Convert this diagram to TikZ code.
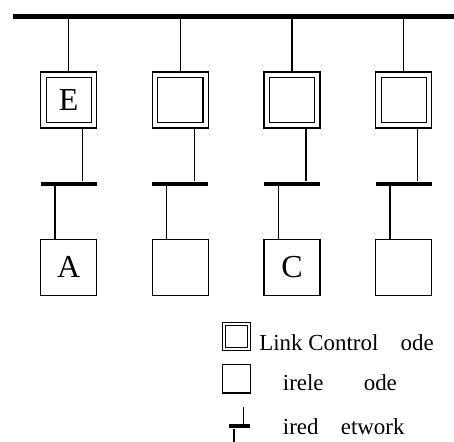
\documentclass[tikz,border=0pt]{standalone}
\usepackage{fontspec}
\setmainfont{Liberation Serif}
\usetikzlibrary{calc}
\tikzset{
  outerbox/.style={draw, line width=0.8pt, minimum size=42pt, inner sep=0pt, fill=white},
  innerbox/.style={draw, line width=0.8pt, minimum size=34pt, inner sep=0pt, font=\fontsize{24}{24}\selectfont},
  plainbox/.style={draw, line width=0.8pt, minimum size=42pt, inner sep=0pt, font=\fontsize{24}{24}\selectfont},
  busbar/.style={fill=black, minimum width=42pt, minimum height=3pt, inner sep=0pt},
  smallbar/.style={fill=black, minimum width=15.5pt, minimum height=3pt, inner sep=0pt},
  wire/.style={line width=0.8pt},
  bus/.style={line width=3.2pt},
  legtext/.style={anchor=base west, inner sep=0pt, font=\fontsize{17.2}{17.2}\selectfont}
}
\begin{document}
\begin{tikzpicture}[x=0.75pt, y=-0.75pt]
\useasboundingbox (0,0) rectangle (454,442);
% top bus
\coordinate (busL) at (13,16.5);
\coordinate (busR) at (454,16.5);
\draw[bus] (busL) -- (busR);
\foreach \i/\x/\up/\low in {1/68.7/E/A, 2/180.3//, 3/292//C, 4/403.7//} {
  \node[outerbox] (L\i) at (\x,100) {};
  \node[innerbox] (I\i) at (\x,100) {\up};
  \coordinate (b\i) at (\x,16.5);
  \node[busbar] (W\i) at (\x,183.7) {};
  \node[plainbox] (N\i) at (\x,267.3) {\low};
  \draw[wire] (b\i) -- (L\i.north);
  \draw[wire] ($(L\i.south)+(14,0)$) -- ($(W\i.north)+(14,0)$);
  \draw[wire] ($(W\i.south)+(-13.7,0)$) -- ($(N\i.north)+(-13.7,0)$);
}
% legend
\node[draw, line width=0.8pt, minimum size=21pt, inner sep=0pt] (LG1) at (236.3,336.3) {};
\node[draw, line width=0.8pt, minimum size=16.8pt, inner sep=0pt] (LG1i) at (236.3,336.3) {};
\node[legtext] (T1) at (259,351) {Link Control\phantom{ N}ode};
\node[draw, line width=0.8pt, minimum width=21pt, minimum height=21.5pt, inner sep=0pt] (LG2) at (236.3,378.7) {};
\node[legtext] (T2) at (261,391) {\phantom{W}irele\phantom{ss N}ode};
\node[smallbar] (LG3) at (239.3,426.3) {};
\coordinate (LG3top) at (243.7,407);
\coordinate (LG3bot) at (234,442);
\draw[wire] (LG3top) -- (LG3top |- LG3.north);
\draw[wire] (LG3bot |- LG3.south) -- (LG3bot);
\node[legtext] (T3) at (261,435) {\phantom{W}ired\phantom{ N}etwork};
\end{tikzpicture}
\end{document}
